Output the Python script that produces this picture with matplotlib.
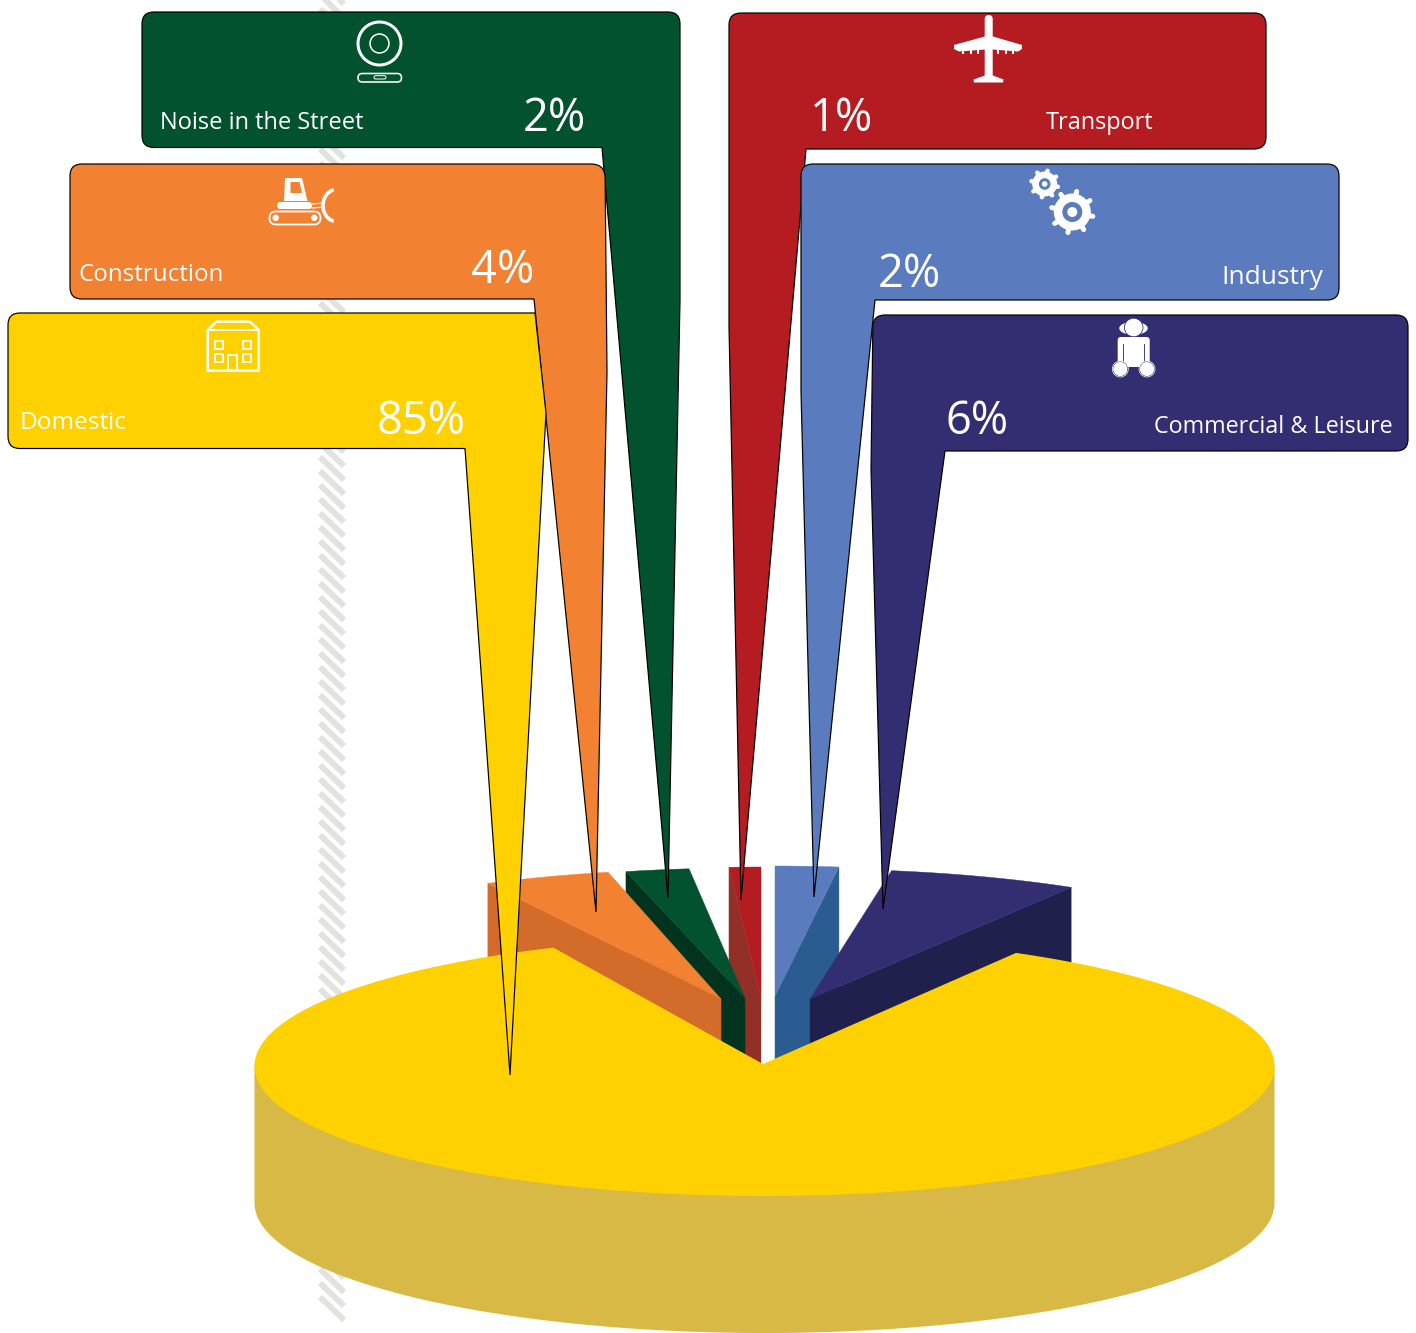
import numpy as np
import matplotlib
matplotlib.use('Agg')
import matplotlib.pyplot as plt
from matplotlib.collections import LineCollection
from matplotlib.patches import Circle, Ellipse, FancyBboxPatch, PathPatch, Polygon, Rectangle, Arc
from matplotlib.path import Path

plt.rcParams['font.family'] = ['Open Sans', 'DejaVu Sans']

categories = ['Domestic', 'Construction', 'Noise in the Street',
              'Transport', 'Industry', 'Commercial & Leisure']
shares = [85, 4, 2, 1, 2, 6]
share_labels = ['85%', '4%', '2%', '1%', '2%', '6%']

face_colors = ['#FFD100', '#F28132', '#03522F', '#B51C22', '#5A7BBD', '#332E72']
side_colors = ['#D9B945', '#D36B2A', '#01331F', '#923027', '#2B5C91', '#1F214C']

WHITE = 'white'
PX = 0.72  # points per pixel at dpi 100
RX, RY = 510, 130
DEPTH = 137


def rim(apex, angles):
    angles = np.radians(angles)
    return np.column_stack([apex[0] + RX*np.cos(angles), apex[1] - RY*np.sin(angles)])


def draw_slice(ax, apex, mid, share, face, side, outer):
    # one pulled out wedge, outer is the end of the rim whose side wall shows
    span = share*3.6
    rim_pts = rim(apex, np.linspace(mid-span/2, mid+span/2, 40))
    corner = rim_pts[outer]
    wall = [apex, corner, corner+[0, DEPTH], (apex[0], apex[1]+DEPTH)]
    ax.add_patch(Polygon(wall, closed=True, fc=side, ec=side, lw=0.3, zorder=3))
    ax.add_patch(Polygon(np.vstack([[apex], rim_pts]), closed=True, fc=face, ec=face, lw=0.3, zorder=3))


def callout_path(points):
    # points are (x, y, corner radius), walked round the outline
    verts, codes = [], []
    n = len(points)
    for i, (x, y, r) in enumerate(points):
        p = np.array([x, y], float)
        if r == 0:
            verts.append(p)
            codes.append(Path.LINETO)
            continue
        prev = np.array(points[i-1][:2], float)
        nxt = np.array(points[(i+1) % n][:2], float)
        a = p + (prev-p)/np.linalg.norm(prev-p)*r
        b = p + (nxt-p)/np.linalg.norm(nxt-p)*r
        verts += [a, p, b]
        codes += [Path.LINETO, Path.CURVE3, Path.CURVE3]
    codes[0] = Path.MOVETO
    verts.append(verts[0])
    codes.append(Path.CLOSEPOLY)
    return Path(verts, codes)


def pill(ax, x0, y0, x1, y1, fc='none', ec=WHITE, lw=1.5):
    r = (y1-y0)/2
    ax.add_patch(FancyBboxPatch((x0+r, y0+r), x1-x0-2*r, 0, boxstyle='round,pad=%g,rounding_size=%g' % (r, r),
                                fc=fc, ec=ec, lw=lw*PX, zorder=8))


def speaker_icon(ax):
    ax.add_patch(Circle((379.5, 43.5), 21.5, fc='none', ec=WHITE, lw=3*PX, zorder=8))
    ax.add_patch(Circle((379.5, 43.5), 9.5, fc='none', ec=WHITE, lw=1.5*PX, zorder=8))
    pill(ax, 358, 73.5, 401.5, 82, lw=1.6)
    pill(ax, 374, 75.7, 386, 79, lw=1)


def bulldozer_icon(ax):
    ax.add_patch(Polygon([(285, 178), (302, 178), (307.5, 201), (284, 201)], fc=WHITE, ec='none', zorder=8))
    ax.add_patch(Polygon([(290.5, 182), (299.5, 182), (302, 193), (290.5, 193)], fc=face_colors[1], ec='none', zorder=8))
    pill(ax, 277, 202, 312, 209, fc=WHITE, ec='none', lw=0)
    pill(ax, 269.5, 211.5, 320.5, 224.5, lw=1.8)
    for x in (275.7, 314.3):
        ax.add_patch(Circle((x, 217.8), 3.2, fc=WHITE, ec='none', zorder=8))
    ax.plot([312, 324], [204, 203], color=WHITE, lw=1.2*PX, zorder=8)
    ax.plot([312, 324], [208, 207], color=WHITE, lw=1.2*PX, zorder=8)
    ax.add_patch(Arc((336.5, 205.5), 27, 32, theta1=100, theta2=260, color=WHITE, lw=3.6*PX, zorder=8))


def house_icon(ax):
    outline = [(207.7, 330), (216.7, 321.7), (250, 321.7), (258.7, 330), (258.7, 370.7), (207.7, 370.7)]
    ax.add_patch(Polygon(outline, closed=True, fc='none', ec=WHITE, lw=2.5*PX, zorder=8))
    ax.plot([207.7, 258.7], [330, 330], color=WHITE, lw=1.8*PX, zorder=8)
    for x in (215.3, 242.7):
        for y in (340.7, 354.3):
            ax.add_patch(Rectangle((x, y), 8, 7.8, fc='none', ec=WHITE, lw=1.8*PX, zorder=8))
    ax.add_patch(Rectangle((228.3, 355), 8.4, 15.7, fc='none', ec=WHITE, lw=1.8*PX, zorder=8))


def plane_icon(ax):
    ax.add_patch(FancyBboxPatch((988.7, 19), 0, 58, boxstyle='round,pad=4,rounding_size=4', fc=WHITE, ec='none', zorder=8))
    wing = [(954, 45), (985, 36.5), (993, 36.5), (1022, 45), (1022, 49), (1018, 51.5), (993, 49.5), (985, 49.5), (959, 51.5), (954, 49)]
    ax.add_patch(Polygon(wing, closed=True, fc=WHITE, ec='none', zorder=8))
    tail = [(973.5, 79.5), (985, 75.5), (993, 75.5), (1003.5, 79.5), (1003, 82.5), (974, 82.5)]
    ax.add_patch(Polygon(tail, closed=True, fc=WHITE, ec='none', zorder=8))
    for x in (962.7, 970.7, 978.3, 998.3, 1006, 1013.3):
        ax.add_patch(Rectangle((x-1.2, 50), 2.4, 4, fc=WHITE, ec='none', zorder=8))


def gear(ax, x, y, body, tip, hole, centre, tooth):
    for a in np.radians(np.arange(0, 360, 45)+12):
        ax.plot([x, x+tip*np.cos(a)], [y, y+tip*np.sin(a)], color=WHITE, lw=tooth*PX,
                solid_capstyle='round', zorder=8)
    ax.add_patch(Circle((x, y), body, fc=WHITE, ec='none', zorder=8))
    ax.add_patch(Circle((x, y), hole, fc=face_colors[4], ec='none', zorder=8))
    ax.add_patch(Circle((x, y), centre, fc=WHITE, ec='none', zorder=8))


def person_icon(ax):
    ax.add_patch(Ellipse((1133.5, 328.3), 28.5, 13, fc=WHITE, ec='none', zorder=8))
    ax.add_patch(Circle((1133.7, 327.5), 9.3, fc=WHITE, ec=face_colors[5], lw=0.8*PX, zorder=8))
    ax.add_patch(FancyBboxPatch((1120.7, 340), 26, 24, boxstyle='round,pad=3,rounding_size=3', fc=WHITE, ec='none', zorder=8))
    for x in (1122.8, 1144.2):
        ax.plot([x, x], [344, 362], color=face_colors[5], lw=0.9*PX, zorder=8)
    for x in (1120.3, 1147):
        ax.add_patch(Circle((x, 369), 7.5, fc=WHITE, ec=face_colors[5], lw=0.7*PX, zorder=8))
        ax.add_patch(Circle((x, 369), 8, fc='none', ec=WHITE, lw=0.7*PX, zorder=8))


fig = plt.figure(figsize=(14.16, 13.33), dpi=100)
ax = fig.add_axes([0, 0, 1, 1])
ax.set_xlim(0, 1416)
ax.set_ylim(1333, 0)
ax.axis('off')

# hatched strip running behind everything
strokes = [[(320, y), (344, y+23)] for y in np.arange(1297, -30, -14)]
ax.add_collection(LineCollection(strokes, colors='#E2E2DF', linewidths=6*PX, zorder=1))

# pulled out wedges, back to front on each side
draw_slice(ax, (761, 997), 91.8, shares[3], face_colors[3], side_colors[3], -1)
draw_slice(ax, (745, 998), 99.9, shares[2], face_colors[2], side_colors[2], -1)
draw_slice(ax, (721, 999), 110, shares[1], face_colors[1], side_colors[1], -1)
draw_slice(ax, (775, 996), 86.4, shares[4], face_colors[4], side_colors[4], 0)
draw_slice(ax, (810, 999), 70, shares[5], face_colors[5], side_colors[5], 0)

# main slice, wall first and then the top with the notch
centre = (764.5, 1066)
main_span = shares[0]*3.6
notch_mid = 87.45
angles = np.linspace(notch_mid+(360-main_span)/2, notch_mid+(360-main_span)/2+main_span, 400)
top = rim(centre, angles)
lower = np.linspace(180, 360, 200)
wall = np.vstack([rim(centre, [180]), rim((centre[0], centre[1]+DEPTH), lower), rim(centre, [360])])
ax.add_patch(Polygon(wall, closed=True, fc=side_colors[0], ec='none', zorder=4))
ax.add_patch(Polygon(np.vstack([[(763, 1064)], top]), closed=True, fc=face_colors[0], ec='none', zorder=5))

# callout panels with their long pointers
outlines = {
    'Noise in the Street': [(142, 12, 12), (680, 12, 12), (680, 300, 0), (668, 898, 0), (602, 147.5, 0), (142, 147.5, 12)],
    'Construction': [(70, 164, 12), (605, 164, 14), (607, 372, 0), (596, 912, 0), (534, 299, 0), (70, 299, 12)],
    'Domestic': [(8, 313, 12), (535, 313, 0), (546, 413, 0), (510, 1075, 0), (465, 448.5, 0), (8, 448.5, 12)],
    'Transport': [(729, 13, 12), (1266, 13, 12), (1266, 149, 12), (806, 149, 0), (741, 900, 0), (729, 327, 0)],
    'Industry': [(801, 164, 12), (1339, 164, 12), (1339, 300, 12), (875, 300, 0), (814, 897, 0), (801, 392, 0)],
    'Commercial & Leisure': [(873, 315, 12), (1408, 315, 12), (1408, 451, 12), (945, 451, 0), (883, 909, 0), (871, 470, 0)],
}
panel_order = ['Noise in the Street', 'Construction', 'Domestic', 'Transport', 'Industry', 'Commercial & Leisure']
for i, name in enumerate(panel_order):
    color = face_colors[categories.index(name)]
    ax.add_patch(PathPatch(callout_path(outlines[name]), fc=color, ec='black', lw=1.2*PX, zorder=6+i*0.1))

name_spots = {
    'Noise in the Street': (160, 129, 'left', 17.0), 'Construction': (78, 281, 'left', 17.4),
    'Domestic': (20, 429, 'left', 17.6), 'Transport': (1046, 129, 'left', 16.9),
    'Industry': (1323, 284, 'right', 19.0), 'Commercial & Leisure': (1393, 433, 'right', 16.85),
}
share_spots = {
    'Noise in the Street': (523, 131), 'Construction': (471, 283), 'Domestic': (377, 433.5),
    'Transport': (810, 131), 'Industry': (878, 287), 'Commercial & Leisure': (945, 433.5),
}
for i, name in enumerate(categories):
    x, y, ha, size = name_spots[name]
    ax.text(x, y, name, color=WHITE, fontsize=size, ha=ha, va='baseline', zorder=9)
    x, y = share_spots[name]
    ax.text(x, y, share_labels[i], color=WHITE, fontsize=32.5, ha='left', va='baseline', zorder=9)

speaker_icon(ax)
bulldozer_icon(ax)
house_icon(ax)
plane_icon(ax)
gear(ax, 1044.7, 184, 12.5, 13.5, 5.8, 2.8, 4.5)
gear(ax, 1072.3, 212, 18.5, 21, 10, 5, 5)
person_icon(ax)

plt.savefig('out.png', dpi=100)
plt.close()
